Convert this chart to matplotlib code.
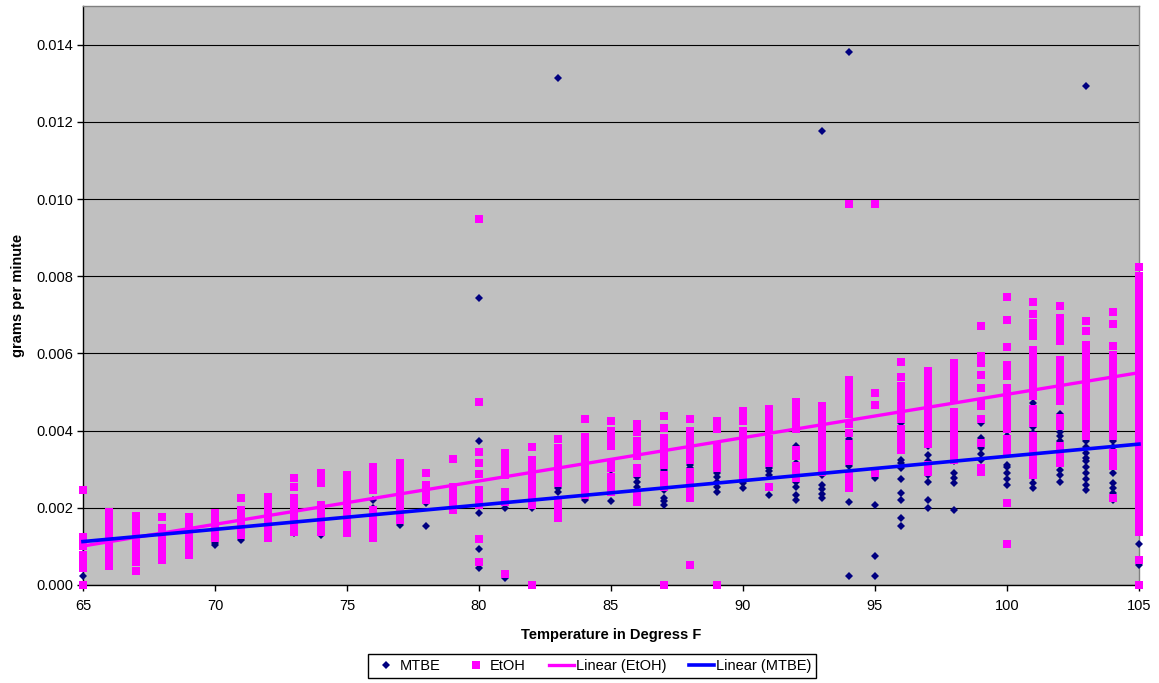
"""
Evaporation rate vs temperature: MTBE / EtOH scatter with linear trend lines
"""

import numpy as np
import matplotlib
matplotlib.use('Agg')
import matplotlib.pyplot as plt
from matplotlib.lines import Line2D

plt.rcParams['font.family'] = ['Liberation Sans', 'DejaVu Sans']

# values in units of 1e-4 grams per minute, grouped by temperature (deg F)
mtbe_groups = [
    (65, [2.3, 6.0, 7.0, 8.0, 11.0]),
    (66, [9, 11, 12, 13]),
    (67, [8, 10, 12]),
    (68, [12, 13]),
    (69, [8, 10.9, 12]),
    (70, [10.4, 11.0, 11.7, 13]),
    (71, [11.7, 12.5, 16]),
    (72, [12.5, 15, 19]),
    (73, [13.5, 16, 18.4]),
    (74, [13, 15, 18.2]),
    (75, [13.5, 17.7, 19, 20.3]),
    (76, [16.9, 18.5, 20, 22]),
    (77, [15.6, 19.5, 21.3]),
    (78, [15.4, 21.3]),
    (79, [20.3, 21.0, 21.6]),
    (80, [4.5, 9.4, 18.7, 24.7, 37.2, 74.3]),
    (81, [1.8, 20, 24.2]),
    (82, [20, 21.5, 23, 25]),
    (83, [24, 25, 26, 131.3]),
    (84, [22, 23.3, 24.7, 27.3]),
    (85, [21.7, 28.6]),
    (86, [24.2, 25.5, 26.8, 28]),
    (87, [20.8, 21.7, 22.6, 24.7, 29.7]),
    (88, [22.6, 25.2, 30.4, 31.2]),
    (89, [24.2, 25.5, 26.8, 28, 29, 32]),
    (90, [25.1, 26.4, 27.7, 29, 29.9]),
    (91, [23.4, 28.6, 29.5, 30.4]),
    (92, [22.1, 23.4, 25.5, 26.8, 31.6, 35.9]),
    (93, [22.5, 23.6, 24.8, 26, 28.6, 33.3, 117.6]),
    (94, [2.2, 21.5, 27.3, 30.7, 35, 37.7, 138.2]),
    (95, [2.2, 7.4, 20.6, 27.7]),
    (96, [15.4, 17.4, 22.1, 23.9, 27.5, 30.4, 31.5, 32.5, 35, 41, 42]),
    (97, [20, 22, 26.8, 28.5, 30.3, 32, 33.8, 35.9]),
    (98, [19.5, 26.5, 27.8, 29, 32, 44.7]),
    (99, [32.5, 34, 35.5, 37, 38.2, 42, 46.3]),
    (100, [26, 27.5, 29, 30.5, 31.2, 37.2, 38.5, 39.8]),
    (101, [25.1, 26.5, 28, 29.5, 31, 32.5, 39.4, 41, 42.5, 44, 45.5, 47.2]),
    (102, [26.8, 28.4, 29.9, 37.2, 38.5, 39.6, 40.7, 44.4]),
    (103, [24.7, 26, 27.5, 29, 30.5, 32, 32.9, 34.3, 35.8, 37.3, 39, 129.3]),
    (104, [22, 23.8, 25.1, 26.4, 29, 34.2, 35.8, 37.4, 39, 40.3, 41.6]),
    (105, [5.2, 10.6, 16, 28.6]),
]

etoh_groups = [
    (65, [0, 4.5, 6, 7.8, 10, 11.2, 12.5, 24.5]),
    (66, [4.8, 6.5, 8, 9.5, 11, 12.5, 14, 15.5, 17, 19]),
    (67, [3.5, 6, 7.5, 9, 10.5, 12, 13.5, 15, 16.5, 17.9]),
    (68, [6.5, 8, 9.5, 11, 12.5, 14, 14.8, 17.6]),
    (69, [7.8, 9.5, 11, 12.5, 14, 15.5, 17, 17.6]),
    (70, [12.2, 13.8, 15.4, 17, 18.7]),
    (71, [13, 14.5, 16, 17.5, 19.5, 22.6]),
    (72, [12.2, 13.8, 15.4, 17, 18.6, 20.2, 21.6, 22.9]),
    (73, [13.8, 15.4, 17, 18.6, 20.2, 21.6, 22.6, 25.5, 27.8]),
    (74, [13.8, 15.4, 17, 18.6, 20.8, 26.5, 27.8, 29]),
    (75, [13.5, 15, 16.5, 18, 19.5, 21, 22.5, 24, 25.5, 27, 28.6]),
    (76, [12.2, 14, 15.8, 17.6, 19.5, 24.7, 26.5, 28.5, 30.6]),
    (77, [16.9, 18.5, 20.3, 21.3, 23, 24.7, 26.4, 28.1, 30, 31.7]),
    (78, [22, 23.5, 25, 26, 29]),
    (79, [19.5, 21, 22.5, 24, 25.5, 32.7]),
    (80, [6, 12, 20.8, 22.5, 24.7, 28.8, 31.7, 34.4, 47.4, 94.8]),
    (81, [2.9, 21.6, 23, 24.2, 28.6, 30.4, 32.3, 34.3]),
    (82, [0, 20.8, 22.4, 24, 25.5, 26.5, 28.5, 30.5, 32.5, 35.8]),
    (83, [17.4, 19.2, 21, 22, 26.5, 28.3, 30, 31.8, 33.6, 35.4, 37.7]),
    (84, [23.4, 24.7, 25.5, 27.3, 29, 30.8, 32.6, 34.4, 36.2, 38.4, 42.9]),
    (85, [24.2, 26, 28, 30.4, 31.7, 35.9, 37.8, 39.8, 42.4]),
    (86, [21.6, 23.4, 29, 30.4, 33.3, 35.2, 37.2, 39.7, 41.6]),
    (87, [0, 25.5, 27, 28.6, 31.2, 32.8, 34.4, 35.9, 38.1, 40.7, 43.7]),
    (88, [5.2, 22.5, 24.2, 25.9, 27.6, 29.4, 32.5, 34.2, 35.9, 36.9, 37.7, 39.8, 42.9]),
    (89, [0, 30.4, 31.7, 33, 34.5, 35.9, 40.3, 41.4, 42.4]),
    (90, [28.1, 29.4, 30.7, 32.3, 33.8, 35, 35.9, 37.8, 39.8, 42.4, 43.7, 45]),
    (91, [25.5, 31.7, 33.2, 34.7, 36.2, 37.7, 40.3, 42, 43.7, 45.5]),
    (92, [27.7, 29.2, 30.7, 33.3, 35, 40.3, 41.4, 42.4, 44.2, 45.8, 47.3]),
    (93, [29.4, 31, 32.5, 34, 35.6, 37.2, 38.8, 40.4, 42, 43.6, 45, 46.3]),
    (94, [25.2, 26.9, 28.6, 32, 33.5, 35, 36.4, 39.5, 41.6, 44.2, 46, 47.7,
          49.4, 51.2, 53.2, 98.7]),
    (95, [29, 46.6, 49.8, 98.7]),
    (96, [35, 36.8, 38.6, 40.3, 42.9, 44.6, 46.3, 48, 49.7, 51.5, 53.8, 57.7]),
    (97, [29.4, 31.2, 36.4, 38, 39.7, 41.3, 42.9, 43.6, 45.3, 47, 48.5, 49.9,
          51.5, 53.5, 55.4]),
    (98, [32.5, 34.2, 35.9, 37.6, 39.3, 41, 42.8, 44.7, 48.5, 50.3, 52, 53.8,
          55.6, 57.4]),
    (99, [29.4, 30.3, 36.8, 43, 46.3, 47.2, 51.1, 54.5, 57.6, 59.3, 67.1]),
    (100, [10.6, 21.2, 34.2, 35.9, 37.7, 40.3, 42, 43.6, 45, 46.3, 48.1, 49.6,
           51.1, 54.1, 55.6, 57.1, 61.7, 68.6, 74.7]),
    (101, [28.6, 30, 31.2, 32.5, 34, 35.5, 37, 38.5, 42, 43.7, 45.5, 48.9,
           50.2, 51.5, 53.7, 55.5, 57.3, 59.1, 61, 64.5, 66.2, 68, 70.1, 73.4]),
    (102, [31.6, 33.3, 34.6, 35.9, 41.1, 42.2, 43.3, 47.6, 49.3, 51, 52.7,
           54.4, 56.1, 57.7, 58.4, 63.2, 65.2, 67.2, 69.3, 72.3]),
    (103, [38.5, 40.1, 41.7, 43.3, 45, 47.2, 48.9, 50.6, 52.3, 54, 55.7, 57.4,
           59, 60.2, 62.1, 65.8, 68.4]),
    (104, [22.5, 30.7, 32.5, 34.3, 38.5, 40.3, 42, 43.7, 45.4, 47.2, 48.1,
           49.8, 51.5, 53.2, 54.9, 56.6, 57.6, 59.7, 61.9, 67.5, 70.6]),
    (105, [0, 6.5, 13.8, 15.5, 17.2, 18.9, 20.6, 22.3, 24, 25.7, 27.4, 29.1,
           30.8, 32.5, 34.2, 35.9, 37.6, 39.3, 41, 42.7, 44.4, 46.1, 47.8, 49.5,
           51.2, 52.9, 54.6, 56.3, 58, 59.7, 61.4, 63.1, 64.8, 66.5, 68.2, 69.9,
           71.6, 73.3, 75, 76.7, 78.4, 80.1, 82.3]),
]

# linear trend lines read at the axis ends (same 1e-4 units)
trend_temps = [65, 105]
etoh_trend = [10.1, 55.0]
mtbe_trend = [11.25, 36.5]

UNIT = 1e-4


def flatten(groups):
    xs, ys = [], []
    for t, vals in groups:
        xs.extend([t] * len(vals))
        ys.extend(vals)
    return np.array(xs, dtype=float), np.array(ys) * UNIT


mtbe_x, mtbe_y = flatten(mtbe_groups)
etoh_x, etoh_y = flatten(etoh_groups)

colors = {
    'mtbe': '#000080',
    'etoh': '#FF00FF',
    'mtbe_line': '#0000FF',
    'etoh_line': '#FF00FF',
    'plot_bg': '#C0C0C0',
}

fig = plt.figure(figsize=(11.59, 6.83), dpi=100, facecolor='white')
ax = fig.add_axes([0.0716, 0.1435, 0.9111, 0.8477])
ax.set_facecolor(colors['plot_bg'])

ax.plot(mtbe_x, mtbe_y, linestyle='none', marker='D', markersize=3.9,
        color=colors['mtbe'], markeredgewidth=0, clip_on=False, zorder=3)
ax.plot(etoh_x, etoh_y, linestyle='none', marker='s', markersize=6.0,
        color=colors['etoh'], markeredgewidth=0, clip_on=False, zorder=4)

ax.plot(trend_temps, np.array(etoh_trend) * UNIT, color=colors['etoh_line'],
        linewidth=2.4, zorder=5, clip_on=False)
ax.plot(trend_temps, np.array(mtbe_trend) * UNIT, color=colors['mtbe_line'],
        linewidth=2.6, zorder=6, clip_on=False)

ax.set_xlim(65, 105)
ax.set_ylim(0, 0.015)
ax.set_xticks(np.arange(65, 106, 5))
ax.set_yticks(np.arange(0, 0.0141, 0.002))
ax.yaxis.set_major_formatter(matplotlib.ticker.FormatStrFormatter('%.3f'))
ax.tick_params(axis='both', direction='out', length=4, width=1, colors='black',
               labelsize=10.5)
ax.tick_params(axis='y', pad=3)
ax.tick_params(axis='x', pad=6)

ax.grid(True, axis='y', color='black', linewidth=0.8, zorder=1)
ax.set_axisbelow(True)

ax.spines['left'].set_color('black')
ax.spines['bottom'].set_color('black')
ax.spines['top'].set_color('#808080')
ax.spines['right'].set_color('#808080')
for s in ax.spines.values():
    s.set_linewidth(1)

ax.set_xlabel('Temperature in Degress F', fontsize=10.5, fontweight='bold',
              labelpad=11)
ax.set_ylabel('grams per minute', fontsize=10.5, fontweight='bold',
              labelpad=8)

handles = [
    Line2D([], [], linestyle='none', marker='D', markersize=3.9,
           color=colors['mtbe'], markeredgewidth=0, label='MTBE'),
    Line2D([], [], linestyle='none', marker='s', markersize=6.0,
           color=colors['etoh'], markeredgewidth=0, label='EtOH'),
    Line2D([], [], color=colors['etoh_line'], linewidth=2.4,
           label='Linear (EtOH)'),
    Line2D([], [], color=colors['mtbe_line'], linewidth=2.6,
           label='Linear (MTBE)'),
]
leg = fig.legend(handles=handles, loc='center', bbox_to_anchor=(0.511, 0.025),
                 ncol=4, fontsize=10.5, frameon=True, fancybox=False,
                 edgecolor='black', framealpha=1, handlelength=1.7,
                 handletextpad=0.1, columnspacing=1.6, borderpad=0.35)
leg.get_frame().set_linewidth(1)

fig.savefig('out.png', dpi=100, facecolor='white')
